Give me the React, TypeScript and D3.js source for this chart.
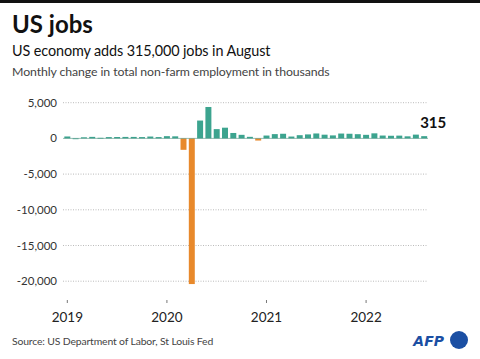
import React from 'react';
import * as d3 from 'd3';

// monthly change in non-farm payrolls, thousands (Jan 2019 - Aug 2022)
const months = d3.range(44).map((i) => new Date(2019, i, 1));
const jobs = [
  269, 1, 153, 214, 85, 182, 194, 207, 208, 185, 261, 184,
  315, 289, -1600, -20400, 2500, 4400, 1300, 1500, 760, 500, 220, -300,
  400, 600, 650, 260, 450, 560, 690, 520, 420, 680, 650, 590,
  500, 710, 400, 370, 390, 290, 530, 315,
];
const yTicks = [5000, 0, -5000, -10000, -15000, -20000];
const yearTicks = [2019, 2020, 2021, 2022];

const W = 480;
const H = 359;
const font = "'Source Sans Pro', Lato, 'Noto Sans', sans-serif";

export default function App() {
  const x = d3
    .scaleBand<number>()
    .domain(d3.range(jobs.length))
    .range([63.5, 428])
    .paddingInner(0.28)
    .paddingOuter(0.1);
  const y = d3.scaleLinear().domain([5000, -20000]).range([102.7, 281.2]);
  const fmt = d3.format(',');
  const last = jobs.length - 1;

  return (
    <svg width={W} height={H} style={{ position: 'absolute', left: 0, top: 0, background: '#fff' }} fontFamily={font}>
      <rect x={0} y={0} width={W} height={3} fill="#111" />
      <text x={12} y={33} fontSize={24} fontWeight={700} fill="#111">US jobs</text>
      <text x={12} y={56} fontSize={14.4} fill="#111" letterSpacing={-0.1}>US economy adds 315,000 jobs in August</text>
      <text x={12} y={76} fontSize={12.3} fill="#444" letterSpacing={-0.1}>Monthly change in total non-farm employment in thousands</text>

      {yTicks.map((t) => (
        <g key={t}>
          {t !== 0 && (
            <line x1={63} x2={428} y1={y(t)} y2={y(t)} stroke="#aaa" strokeWidth={0.8} strokeDasharray="1,1.5" />
          )}
          <text x={57} y={y(t)} dy="0.35em" textAnchor="end" fontSize={11.5} fill="#333">
            {t < 0 ? '-' + fmt(-t) : fmt(t)}
          </text>
        </g>
      ))}

      {jobs.map((v, i) => (
        <rect
          key={i}
          x={x(i)}
          width={x.bandwidth()}
          y={y(Math.max(0, v))}
          height={Math.max(0.8, Math.abs(y(v) - y(0)))}
          fill={v < 0 ? '#e8892b' : '#3ca48f'}
        />
      ))}
      <line x1={63} x2={428} y1={y(0)} y2={y(0)} stroke="#4b8f80" strokeWidth={0.6} />

      <text x={x(last)! + x.bandwidth() / 2 + 9} y={y(jobs[last]) - 8} textAnchor="middle" fontSize={15} fontWeight={700} fill="#111">
        {jobs[last]}
      </text>

      {yearTicks.map((yr) => {
        const i = months.findIndex((m) => m.getFullYear() === yr && m.getMonth() === 0);
        const cx = x(i)! + x.bandwidth() / 2;
        return (
          <g key={yr}>
            <line x1={cx} x2={cx} y1={300} y2={303} stroke="#555" strokeWidth={0.8} />
            <text x={cx} y={322} textAnchor="middle" fontSize={13.5} fill="#222">{yr}</text>
          </g>
        );
      })}

      <text x={12} y={345} fontSize={10.4} fill="#444" letterSpacing={-0.15}>Source: US Department of Labor, St Louis Fed</text>
      <text x={444} y={346} textAnchor="end" fontSize={14} fontWeight={900} fontStyle="italic" fill="#1b4fa3" fontFamily="'DejaVu Sans', sans-serif">AFP</text>
      <circle cx={459} cy={340} r={9} fill="#1b4fa3" />
    </svg>
  );
}
